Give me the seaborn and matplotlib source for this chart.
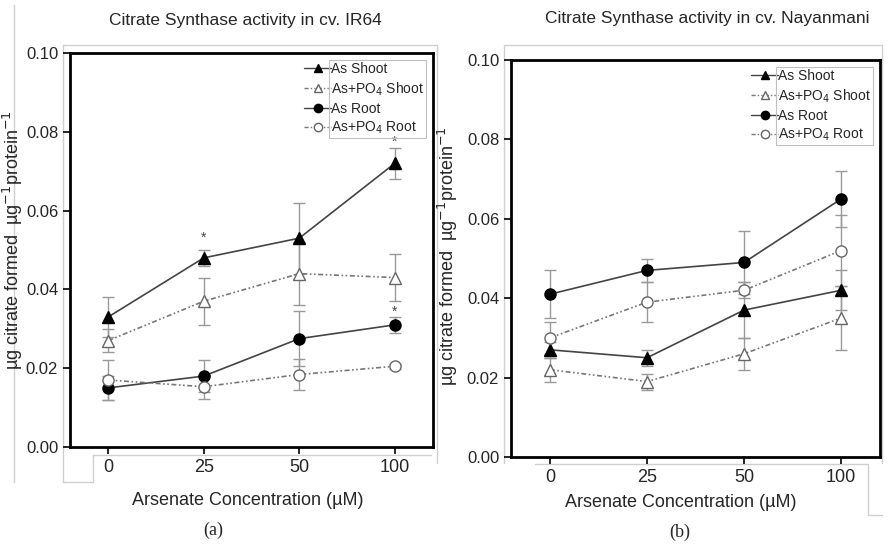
import numpy as np
import pandas as pd
import matplotlib
matplotlib.use("Agg")
import matplotlib.pyplot as plt
import seaborn as sns
from matplotlib.lines import Line2D
from matplotlib.patches import Rectangle

sns.set_theme(style="white")
plt.rcParams['font.family'] = ['Liberation Sans', 'DejaVu Sans']

concentrations = ["0", "25", "50", "100"]
series_names = ["As Shoot", "As+PO$_4$ Shoot", "As Root", "As+PO$_4$ Root"]

# Panel (a) IR64
ir64_as_shoot = [0.033, 0.048, 0.053, 0.072]
ir64_as_shoot_err = [0.005, 0.002, 0.009, 0.004]
ir64_po4_shoot = [0.027, 0.037, 0.044, 0.043]
ir64_po4_shoot_err = [0.003, 0.006, 0.008, 0.006]
ir64_as_root = [0.015, 0.018, 0.0275, 0.031]
ir64_as_root_err = [0.003, 0.004, 0.007, 0.002]
ir64_po4_root = [0.017, 0.0153, 0.0184, 0.0205]
ir64_po4_root_err = [0.005, 0.003, 0.004, 0.0006]

# Panel (b) Nayanmani
nay_as_shoot = [0.027, 0.025, 0.037, 0.042]
nay_as_shoot_err = [0.002, 0.002, 0.007, 0.005]
nay_po4_shoot = [0.022, 0.019, 0.026, 0.035]
nay_po4_shoot_err = [0.003, 0.002, 0.004, 0.008]
nay_as_root = [0.041, 0.047, 0.049, 0.065]
nay_as_root_err = [0.006, 0.003, 0.008, 0.007]
nay_po4_root = [0.030, 0.039, 0.042, 0.052]
nay_po4_root_err = [0.004, 0.005, 0.002, 0.009]

DASH = (0, (3, 1.5, 1, 1.5, 1, 1.5))
styles = {
    "As Shoot": dict(marker="^", mfc="black", mec="black", ls="-", color="#444444"),
    "As+PO$_4$ Shoot": dict(marker="^", mfc="white", mec="#666666", ls=DASH, color="#777777"),
    "As Root": dict(marker="o", mfc="black", mec="black", ls="-", color="#444444"),
    "As+PO$_4$ Root": dict(marker="o", mfc="white", mec="#666666", ls=DASH, color="#777777"),
}

W, H = 895, 546


def draw_panel(ax, vals, errs, stars, ylab_xy, xlab_xy):
    xs = np.arange(len(concentrations))
    for name, v, e in zip(series_names, vals, errs):
        st = styles[name]
        ax.errorbar(xs, v, yerr=e, fmt="none", ecolor="#999999", elinewidth=1.0,
                    capsize=4, capthick=1.0, zorder=1)
        df = pd.DataFrame({"x": xs, "y": v})
        sns.lineplot(data=df, x="x", y="y", ax=ax, color=st["color"], linewidth=1.2,
                     linestyle=st["ls"], marker=st["marker"], markersize=8,
                     markerfacecolor=st["mfc"], markeredgecolor=st["mec"],
                     markeredgewidth=1.0, zorder=3, legend=False)
    for (xi, yi) in stars:
        ax.text(xi, yi, "*", ha="center", va="center", fontsize=10, color="#444444")
    ax.set_xlim(-0.4, 3.4)
    ax.set_ylim(0, 0.10)
    ax.set_xticks(xs)
    ax.set_xticklabels(concentrations, fontsize=13)
    ax.set_yticks([0, 0.02, 0.04, 0.06, 0.08, 0.10])
    ax.set_yticklabels(["0.00", "0.02", "0.04", "0.06", "0.08", "0.10"], fontsize=12)
    ax.tick_params(axis="both", direction="out", length=5, width=1.2, color="black",
                   bottom=True, left=True)
    for sp in ax.spines.values():
        sp.set_visible(True)
        sp.set_color("black")
        sp.set_linewidth(2.0)
    ax.set_xlabel("Arsenate Concentration (\u00b5M)", fontsize=13)
    ax.xaxis.set_label_coords(*xlab_xy)
    ax.set_ylabel("\u00b5g citrate formed  \u00b5g$^{-1}$protein$^{-1}$", fontsize=13)
    ax.yaxis.set_label_coords(*ylab_xy)
    handles = []
    for name in series_names:
        st = styles[name]
        handles.append(Line2D([0], [0], color=st["color"], ls=st["ls"], lw=1.0,
                              marker=st["marker"], markersize=6, mfc=st["mfc"], mec=st["mec"]))
    leg = ax.legend(handles, series_names, loc="upper right", fontsize=10, frameon=False,
                    handlelength=1.9, handletextpad=0.0, borderpad=0.2,
                    labelspacing=0.3, borderaxespad=0.45)
    return leg


fig = plt.figure(figsize=(W / 100, H / 100), dpi=100)


def fx(px):
    return px / W


def fy(py):
    return 1 - py / H


# faint gray frame lines from the original figure composition
gray = "#cfcfcf"
seglist = [
    [(14, 5), (14, 482)],
    [(63, 45), (437, 45)], [(437, 45), (437, 463)], [(63, 45), (63, 482)],
    [(63, 482), (93, 482)], [(93, 455), (93, 482)], [(93, 455), (431, 455)],
    [(504, 45), (882, 45)], [(882, 45), (882, 463)], [(504, 45), (504, 463)],
    [(535, 464), (868, 464)], [(868, 464), (868, 515)], [(868, 515), (882, 515)],
]
for seg in seglist:
    (x0, y0), (x1, y1) = seg
    fig.add_artist(Line2D([fx(x0), fx(x1)], [fy(y0), fy(y1)], color=gray, lw=1.0, zorder=0))

ax1 = fig.add_axes([fx(70), fy(447), (433 - 70) / W, (447 - 53) / H])
ax2 = fig.add_axes([fx(511), fy(457), (880 - 511) / W, (457 - 60) / H])

leg1 = draw_panel(ax1,
                  [ir64_as_shoot, ir64_po4_shoot, ir64_as_root, ir64_po4_root],
                  [ir64_as_shoot_err, ir64_po4_shoot_err, ir64_as_root_err, ir64_po4_root_err],
                  [(1, 0.0530), (3, 0.0775), (3, 0.0342)],
                  ylab_xy=(-0.124, 0.525), xlab_xy=(0.49, -0.113))
leg2 = draw_panel(ax2,
                  [nay_as_shoot, nay_po4_shoot, nay_as_root, nay_po4_root],
                  [nay_as_shoot_err, nay_po4_shoot_err, nay_as_root_err, nay_po4_root_err],
                  [],
                  ylab_xy=(-0.138, 0.506), xlab_xy=(0.46, -0.093))

fig.text(fx(245), fy(20), "Citrate Synthase activity in cv. IR64", ha="center", va="center",
         fontsize=12.5)
fig.text(fx(707), fy(18), "Citrate Synthase activity in cv. Nayanmani", ha="center", va="center",
         fontsize=12.5)

fig.text(fx(213), fy(530), "(a)", ha="center", va="center", fontsize=13,
         family=["Liberation Serif", "DejaVu Serif"])
fig.text(fx(680), fy(532), "(b)", ha="center", va="center", fontsize=13,
         family=["Liberation Serif", "DejaVu Serif"])

# frame around the legend texts only (handles sit outside the box, as in the original)
fig.canvas.draw()
renderer = fig.canvas.get_renderer()
inv = fig.transFigure.inverted()
for leg in (leg1, leg2):
    bbs = [t.get_window_extent(renderer) for t in leg.get_texts()]
    x0 = min(b.x0 for b in bbs) - 2
    x1 = max(b.x1 for b in bbs) + 2
    y0 = min(b.y0 for b in bbs) - 2
    y1 = max(b.y1 for b in bbs) + 2
    (fx0, fy0) = inv.transform((x0, y0))
    (fx1, fy1) = inv.transform((x1, y1))
    fig.add_artist(Rectangle((fx0, fy0), fx1 - fx0, fy1 - fy0, transform=fig.transFigure,
                             fill=False, edgecolor="#c0c0c0", lw=0.8, zorder=5))

fig.savefig("out.png", dpi=100)
